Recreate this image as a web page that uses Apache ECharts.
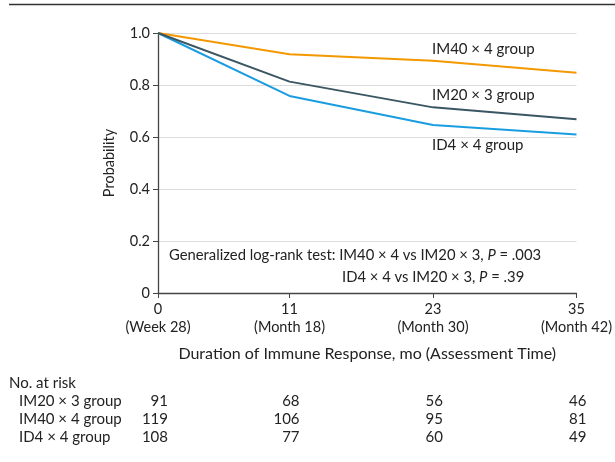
<!DOCTYPE html>
<html><head><meta charset="utf-8">
<script src="https://cdn.jsdelivr.net/npm/echarts@6/dist/echarts.min.js"></script>
<style>html,body{margin:0;padding:0;background:#fff}#c{width:615px;height:462px}</style>
</head><body><div id="c"></div>
<script>
var times = [0, 11, 23, 35];
var timeLabels = ['(Week 28)', '(Month 18)', '(Month 30)', '(Month 42)'];
var groups = ['IM20 × 3 group', 'IM40 × 4 group', 'ID4 × 4 group'];
var im20 = [1.0, 0.813, 0.714, 0.668];
var im40 = [1.0, 0.918, 0.893, 0.847];
var id4 = [1.0, 0.758, 0.646, 0.610];
var riskIM20 = [91, 68, 56, 46];
var riskIM40 = [119, 106, 95, 81];
var riskID4 = [108, 77, 60, 49];
var colors = {im20: '#3b5663', im40: '#f39800', id4: '#1a9de0'};
var FONT = 'Lato';

function pairs(v){ return times.map(function(t,i){ return [t, v[i]]; }); }

var chart = echarts.init(document.getElementById('c'));
var option = {
  animation: false,
  textStyle: {fontFamily: FONT},
  grid: {left: 158, right: 37, top: 33, bottom: 169, containLabel: false},
  xAxis: {
    type: 'value', min: 0, max: 35,
    name: 'Duration of Immune Response, mo (Assessment Time)',
    nameLocation: 'middle', nameGap: 53,
    nameTextStyle: {fontFamily: FONT, fontSize: 16, color: '#222'},
    axisLine: {show: true, lineStyle: {color: '#444', width: 1.3}},
    axisTick: {show: true, length: 5, lineStyle: {color: '#444'}, customValues: times},
    axisLabel: {
      customValues: times, margin: 7, fontFamily: FONT, fontSize: 14.5, color: '#222', lineHeight: 18,
      formatter: function(v){ var i = times.indexOf(v); return v + '\n' + timeLabels[i]; }
    },
    splitLine: {show: false}
  },
  yAxis: {
    type: 'value', min: 0, max: 1, interval: 0.2,
    name: 'Probability', nameLocation: 'middle', nameGap: 41, nameRotate: 90,
    nameTextStyle: {fontFamily: FONT, fontSize: 14.5, color: '#222'},
    axisLine: {show: true, lineStyle: {color: '#444', width: 1.3}},
    axisTick: {show: true, length: 5, lineStyle: {color: '#444'}},
    axisLabel: {margin: 8, fontFamily: FONT, fontSize: 14.5, color: '#222',
      formatter: function(v){ return v === 0 ? '0' : v.toFixed(1); }},
    splitLine: {show: true, lineStyle: {color: '#dcdcdc', width: 1}}
  },
  series: [
    {type: 'line', name: groups[1], data: pairs(im40), symbol: 'none', lineStyle: {color: colors.im40, width: 2}, z: 3},
    {type: 'line', name: groups[0], data: pairs(im20), symbol: 'none', lineStyle: {color: colors.im20, width: 2}, z: 4},
    {type: 'line', name: groups[2], data: pairs(id4), symbol: 'none', lineStyle: {color: colors.id4, width: 2}, z: 2}
  ]
};
chart.setOption(option);

var g = [];
// top rule
g.push({type: 'line', shape: {x1: 9, y1: 4.5, x2: 615, y2: 4.5}, style: {stroke: '#333', lineWidth: 1.5}});
// line labels
var lx = 432;
[[groups[1], 49], [groups[0], 95], [groups[2], 145]].forEach(function(p){
  g.push({type: 'text', x: lx, y: p[1], style: {text: p[0], font: '15px ' + FONT, fill: '#222', textVerticalAlign: 'middle'}});
});
// annotation
var rich = {i: {fontStyle: 'italic', fontFamily: FONT, fontSize: 14.8, fill: '#222'}};
g.push({type: 'text', x: 169, y: 255, style: {
  text: 'Generalized log-rank test: IM40 × 4 vs IM20 × 3, {i|P} = .003',
  font: '14.8px ' + FONT, fill: '#222', textVerticalAlign: 'middle', rich: rich}});
g.push({type: 'text', x: 342, y: 277, style: {
  text: 'ID4 × 4 vs IM20 × 3, {i|P} = .39',
  font: '14.8px ' + FONT, fill: '#222', textVerticalAlign: 'middle', rich: rich}});
// risk table
var TF = '15px ' + FONT;
g.push({type: 'text', x: 9, y: 383, style: {text: 'No. at risk', font: TF, fill: '#222', textVerticalAlign: 'middle'}});
var rows = [riskIM20, riskIM40, riskID4];
var rowY = [401, 419, 437];
rows.forEach(function(r, ri){
  g.push({type: 'text', x: 19, y: rowY[ri], style: {text: groups[ri], font: TF, fill: '#222', textVerticalAlign: 'middle'}});
  r.forEach(function(v, ci){
    var px = chart.convertToPixel({gridIndex: 0}, [times[ci], 0])[0];
    g.push({type: 'text', x: px + 10, y: rowY[ri], style: {text: String(v), font: TF, fill: '#222', textAlign: 'right', textVerticalAlign: 'middle'}});
  });
});
chart.setOption({graphic: g});
</script></body></html>
